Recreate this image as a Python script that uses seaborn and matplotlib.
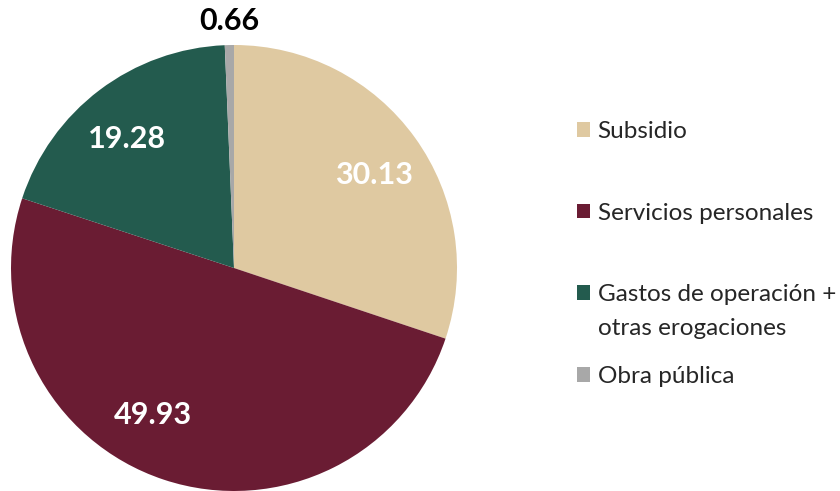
import matplotlib
matplotlib.use("Agg")
import matplotlib.pyplot as plt
import seaborn as sns

# datos del gasto (porcentaje)
categorias = ["Subsidio", "Servicios personales", "Gastos de operación +", "Obra pública"]
linea_extra = "otras erogaciones"
valores = [30.13, 49.93, 19.28, 0.66]
colores = ["#DFC9A1", "#6A1C33", "#235B4E", "#A8A8A8"]

sns.set_style("white")
plt.rcParams['font.family'] = ['Lato', 'DejaVu Sans']

fig = plt.figure(figsize=(8.4, 4.91), dpi=100)
ax = fig.add_axes([0, 0, 1, 1])


def fmt(pct):
    # las etiquetas pequeñas van fuera del pastel
    return f"{pct:.2f}" if pct > 2 else ""


etiquetas_fuera = [f"{v:.2f}" if v <= 2 else "" for v in valores]

wedges, textos, autotextos = ax.pie(
    valores,
    colors=colores,
    startangle=90,
    counterclock=False,
    center=(234, 223),
    radius=223,
    labels=etiquetas_fuera,
    labeldistance=1.11,
    autopct=fmt,
    pctdistance=0.75,
    wedgeprops={"linewidth": 0},
    textprops={"fontsize": 22, "fontweight": "bold"},
)

for t in autotextos:
    t.set_color("white")
for t in textos:
    t.set_color("black")
    t.set_ha("center")
    t.set_va("center")

# pequeño ajuste de las etiquetas, como en el original
x, y = autotextos[0].get_position()
autotextos[0].set_position((x + 4, y - 5))
x, y = autotextos[1].get_position()
autotextos[1].set_position((x - 28, y + 12))
x, y = autotextos[2].get_position()
autotextos[2].set_position((x - 6, y - 4))

ax.set_xlim(0, 840)
ax.set_ylim(0, 491)
ax.set_aspect("equal")
ax.axis("off")

leg = ax.legend(
    wedges, categorias,
    loc="center left",
    bbox_to_anchor=(577, 237),
    bbox_transform=ax.transData,
    frameon=False,
    borderpad=0,
    borderaxespad=0,
    fontsize=17.5,
    handlelength=0.55,
    handleheight=0.55,
    handletextpad=0.3,
    labelspacing=2.5,
)

texto_gastos = leg.get_texts()[2]
ax.annotate(linea_extra, xy=(0, 0), xycoords=texto_gastos,
            xytext=(0, -24), textcoords="offset points",
            fontsize=17.5, va="bottom", ha="left", zorder=10)

fig.savefig("out.png", dpi=100)
